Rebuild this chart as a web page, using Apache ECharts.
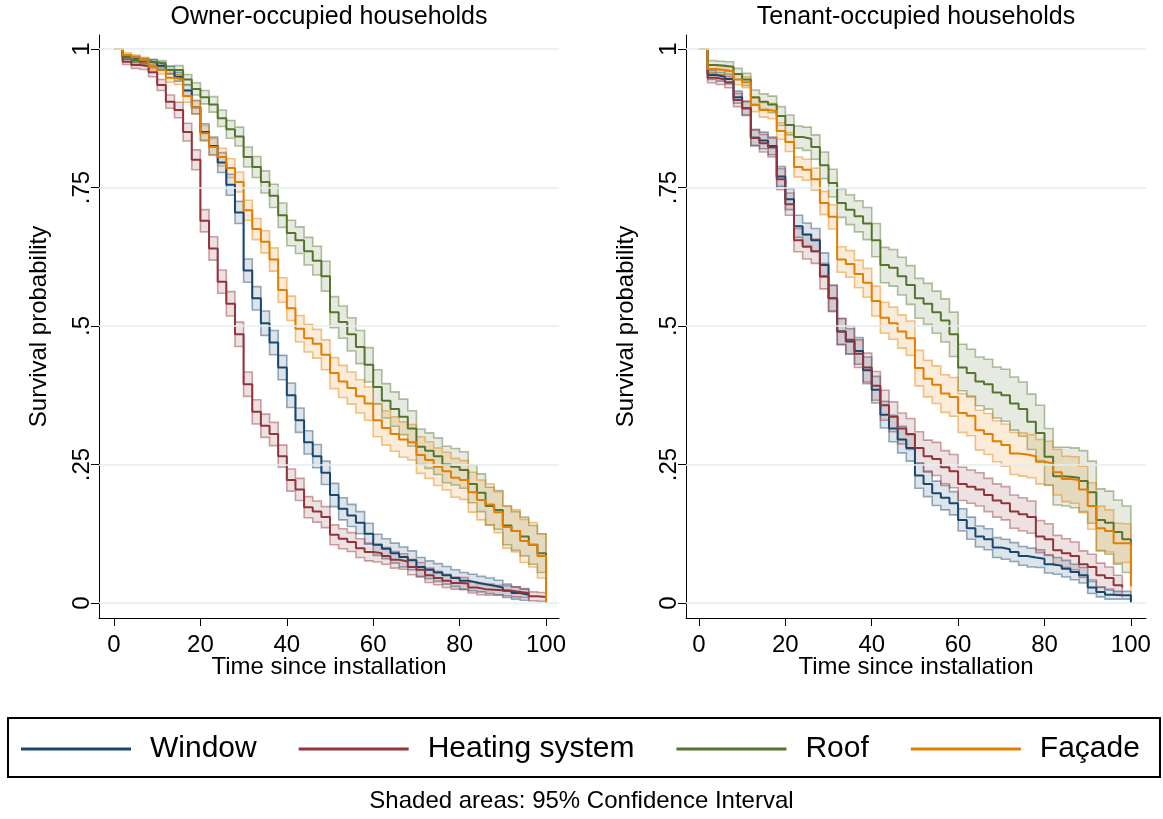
<!DOCTYPE html>
<html>
<head>
<meta charset="utf-8">
<script src="https://cdn.jsdelivr.net/npm/echarts@6.0.0/dist/echarts.min.js"></script>
<style>
html,body{margin:0;padding:0;background:#fff;}
#chart{width:1163px;height:819px;}
</style>
</head>
<body>
<div id="chart"></div>
<script>
// ---------- DATA ----------
// time grid (years since installation); each value holds from t[i] to t[i+1]
const T = [0,2,4,6,8,10,12,14,16,18,20,22,24,26,28,30,32,34,36,38,40,42,44,46,48,50,52,54,56,58,60,62,64,66,68,70,72,74,76,78,80,82,84,86,88,90,92,94,96,98,100];

const categories = ['Window', 'Heating system', 'Roof', 'Façade'];
const panelTitles = ['Owner-occupied households', 'Tenant-occupied households'];
const xTicks = [0, 20, 40, 60, 80, 100];
const yTicks = [0, 0.25, 0.5, 0.75, 1];
const yTickLabels = ['0', '.25', '.5', '.75', '1'];

// Owner-occupied: survival estimates
const ownWindow  = [1.0,0.985,0.982,0.978,0.975,0.97,0.962,0.95,0.925,0.895,0.85,0.825,0.795,0.755,0.705,0.6,0.55,0.505,0.47,0.425,0.375,0.33,0.29,0.265,0.235,0.195,0.17,0.158,0.145,0.125,0.105,0.098,0.09,0.083,0.077,0.065,0.06,0.055,0.05,0.045,0.04,0.037,0.034,0.031,0.028,0.022,0.018,0.015,0.014];
const ownHeating = [1.0,0.977,0.971,0.969,0.958,0.935,0.905,0.89,0.85,0.8,0.69,0.64,0.58,0.54,0.485,0.395,0.345,0.32,0.305,0.265,0.222,0.205,0.173,0.165,0.155,0.123,0.116,0.11,0.099,0.092,0.09,0.085,0.078,0.075,0.065,0.06,0.05,0.045,0.04,0.036,0.035,0.028,0.025,0.024,0.023,0.022,0.02,0.018,0.012,0.011,0.01];
const ownRoof    = [1.0,0.985,0.98,0.978,0.976,0.973,0.962,0.962,0.945,0.928,0.913,0.9,0.875,0.855,0.842,0.805,0.787,0.76,0.735,0.7,0.668,0.655,0.635,0.618,0.59,0.525,0.507,0.485,0.462,0.43,0.39,0.365,0.35,0.336,0.315,0.282,0.275,0.265,0.25,0.246,0.24,0.215,0.199,0.175,0.168,0.14,0.13,0.12,0.105,0.09,0.0];
const ownFacade  = [1.0,0.989,0.985,0.98,0.968,0.962,0.948,0.945,0.915,0.895,0.848,0.823,0.805,0.785,0.76,0.709,0.675,0.652,0.62,0.565,0.532,0.495,0.478,0.468,0.448,0.415,0.4,0.388,0.373,0.36,0.33,0.316,0.305,0.295,0.29,0.267,0.258,0.246,0.238,0.226,0.222,0.2,0.186,0.178,0.164,0.137,0.13,0.112,0.105,0.085,0.0];

// Owner-occupied: half-width of the shaded 95% band at each step
const ownWindowCI  = [0,0.004,0.005,0.005,0.006,0.006,0.007,0.008,0.01,0.012,0.015,0.016,0.018,0.019,0.02,0.021,0.021,0.022,0.022,0.022,0.022,0.022,0.021,0.021,0.021,0.021,0.02,0.02,0.02,0.019,0.019,0.018,0.018,0.018,0.017,0.017,0.016,0.016,0.016,0.015,0.015,0.015,0.014,0.014,0.013,0.012,0.011,0.01,0.01];
const ownHeatingCI = [0,0.005,0.006,0.006,0.008,0.01,0.012,0.014,0.016,0.018,0.02,0.021,0.021,0.022,0.022,0.022,0.022,0.021,0.021,0.02,0.02,0.02,0.019,0.019,0.019,0.018,0.018,0.017,0.017,0.016,0.016,0.015,0.015,0.014,0.014,0.013,0.013,0.012,0.012,0.011,0.011,0.01,0.01,0.01,0.009,0.009,0.009,0.008,0.008,0.008,0.007];
const ownRoofCI    = [0,0.004,0.005,0.005,0.005,0.006,0.007,0.008,0.009,0.011,0.012,0.014,0.015,0.016,0.017,0.018,0.019,0.02,0.021,0.022,0.023,0.024,0.025,0.026,0.027,0.028,0.029,0.03,0.03,0.031,0.031,0.031,0.031,0.032,0.032,0.032,0.032,0.033,0.033,0.033,0.033,0.034,0.034,0.034,0.035,0.035,0.035,0.035,0.035,0.035,0];
const ownFacadeCI  = [0,0.004,0.004,0.005,0.006,0.007,0.008,0.009,0.011,0.012,0.014,0.015,0.016,0.017,0.018,0.018,0.019,0.02,0.021,0.022,0.022,0.024,0.025,0.026,0.027,0.028,0.029,0.029,0.03,0.03,0.03,0.031,0.031,0.032,0.032,0.033,0.033,0.034,0.034,0.035,0.035,0.036,0.036,0.037,0.037,0.038,0.038,0.039,0.04,0.04,0];

// Tenant-occupied: survival estimates
const tenWindow  = [1.0,0.953,0.95,0.946,0.913,0.893,0.84,0.835,0.825,0.77,0.729,0.68,0.665,0.655,0.61,0.55,0.49,0.472,0.455,0.42,0.385,0.34,0.315,0.295,0.28,0.23,0.215,0.198,0.19,0.18,0.15,0.135,0.12,0.115,0.1,0.097,0.092,0.085,0.082,0.08,0.07,0.067,0.062,0.056,0.05,0.028,0.02,0.015,0.014,0.014,0.0];
const tenHeating = [1.0,0.948,0.945,0.94,0.908,0.893,0.84,0.83,0.822,0.765,0.72,0.655,0.643,0.635,0.59,0.55,0.49,0.475,0.45,0.425,0.392,0.357,0.336,0.315,0.305,0.28,0.265,0.26,0.245,0.238,0.215,0.21,0.205,0.195,0.185,0.18,0.165,0.16,0.155,0.12,0.115,0.095,0.09,0.085,0.07,0.065,0.05,0.045,0.032,0.028];
const tenRoof    = [1.0,0.971,0.97,0.968,0.955,0.945,0.913,0.905,0.9,0.879,0.863,0.841,0.838,0.823,0.79,0.758,0.722,0.71,0.698,0.685,0.655,0.61,0.605,0.59,0.574,0.55,0.54,0.525,0.51,0.485,0.425,0.415,0.4,0.395,0.38,0.375,0.36,0.35,0.327,0.307,0.264,0.229,0.228,0.226,0.22,0.2,0.15,0.145,0.128,0.115,0.105];
const tenFacade  = [1.0,0.964,0.962,0.96,0.945,0.94,0.899,0.89,0.888,0.852,0.832,0.787,0.782,0.765,0.722,0.697,0.62,0.612,0.594,0.578,0.545,0.515,0.505,0.49,0.478,0.424,0.405,0.394,0.378,0.372,0.343,0.338,0.312,0.305,0.292,0.285,0.27,0.268,0.265,0.255,0.252,0.236,0.224,0.222,0.205,0.175,0.135,0.13,0.108,0.108,0.03];

// Tenant-occupied: half-width of the shaded 95% band at each step
const tenWindowCI  = [0,0.008,0.008,0.009,0.011,0.012,0.014,0.015,0.016,0.018,0.019,0.02,0.021,0.021,0.022,0.023,0.023,0.023,0.024,0.024,0.024,0.024,0.024,0.024,0.024,0.023,0.023,0.022,0.022,0.021,0.02,0.02,0.019,0.019,0.018,0.018,0.017,0.017,0.017,0.016,0.016,0.015,0.015,0.014,0.014,0.011,0.009,0.008,0.007,0.007,0];
const tenHeatingCI = [0,0.009,0.009,0.01,0.012,0.013,0.015,0.016,0.017,0.019,0.02,0.021,0.022,0.022,0.023,0.024,0.024,0.025,0.025,0.026,0.026,0.027,0.027,0.028,0.028,0.029,0.029,0.03,0.03,0.03,0.03,0.03,0.03,0.03,0.03,0.03,0.03,0.03,0.029,0.029,0.028,0.027,0.026,0.025,0.024,0.023,0.022,0.02,0.018,0.018];
const tenRoofCI    = [0,0.008,0.008,0.009,0.01,0.011,0.013,0.014,0.015,0.017,0.018,0.02,0.021,0.022,0.024,0.025,0.026,0.027,0.028,0.029,0.03,0.032,0.033,0.034,0.035,0.036,0.037,0.038,0.039,0.04,0.042,0.043,0.044,0.045,0.046,0.047,0.048,0.049,0.05,0.05,0.051,0.052,0.053,0.054,0.055,0.056,0.056,0.057,0.058,0.06,0.06];
const tenFacadeCI  = [0,0.007,0.008,0.008,0.009,0.01,0.012,0.013,0.014,0.015,0.017,0.018,0.019,0.02,0.021,0.022,0.023,0.024,0.025,0.026,0.027,0.028,0.029,0.03,0.031,0.032,0.033,0.034,0.034,0.035,0.035,0.036,0.036,0.037,0.037,0.038,0.038,0.039,0.039,0.04,0.04,0.041,0.041,0.042,0.042,0.042,0.04,0.038,0.036,0.035,0.028];

// ---------- STYLE ----------
const FONT = "'Liberation Sans', Arial, Helvetica, sans-serif";
const lineColors = ['#1a476f', '#90353b', '#55752f', '#e37e00'];
const rgb = [[26,71,111],[144,53,59],[85,117,47],[227,126,0]];
const panels = [
  { values: [ownWindow, ownHeating, ownRoof, ownFacade], ci: [ownWindowCI, ownHeatingCI, ownRoofCI, ownFacadeCI], xMin: -3.47, xMax: 103.0 },
  { values: [tenWindow, tenHeating, tenRoof, tenFacade], ci: [tenWindowCI, tenHeatingCI, tenRoofCI, tenFacadeCI], xMin: -3.0, xMax: 103.5 }
];
const gridLefts = [99, 686];

const chart = echarts.init(document.getElementById('chart'), null, { renderer: 'canvas' });

const grids = [], xAxes = [], yAxes = [], series = [];
panels.forEach((p, pi) => {
  grids.push({ left: gridLefts[pi], top: 35, width: 460, height: 583, containLabel: false });
  xAxes.push({
    type: 'value', gridIndex: pi, min: p.xMin, max: p.xMax,
    name: 'Time since installation', nameLocation: 'middle', nameGap: 37, nameMoveOverlap: false,
    nameTextStyle: { fontSize: 24, color: '#000', fontFamily: FONT },
    axisLine: { show: true, onZero: false, lineStyle: { color: '#000', width: 1 } },
    axisTick: { show: true, length: 8, customValues: xTicks, lineStyle: { color: '#000', width: 1 } },
    axisLabel: { customValues: xTicks, fontSize: 24, color: '#000', fontFamily: FONT, margin: 15 },
    splitLine: { show: false }
  });
  yAxes.push({
    type: 'value', gridIndex: pi, min: -0.0271, max: 1.0253,
    name: 'Survival probability', nameLocation: 'middle', nameGap: 48,
    nameTextStyle: { fontSize: 24, color: '#000', fontFamily: FONT },
    axisLine: { show: true, onZero: false, lineStyle: { color: '#000', width: 1 } },
    axisTick: { show: true, length: 8, customValues: yTicks, lineStyle: { color: '#000', width: 1 } },
    axisLabel: {
      customValues: yTicks, rotate: 90, fontSize: 24, color: '#000', fontFamily: FONT, margin: 5,
      formatter: (v) => { const i = yTicks.findIndex(t => Math.abs(t - v) < 1e-9); return i >= 0 ? yTickLabels[i] : ''; }
    },
    splitLine: { show: false }
  });

  // grid lines at the y ticks
  series.push({
    type: 'line', name: 'grid' + pi, xAxisIndex: pi, yAxisIndex: pi, data: [], silent: true, z: 0,
    markLine: {
      silent: true, symbol: 'none', label: { show: false }, animation: false,
      lineStyle: { color: '#e4eef0', width: 1.6, type: 'solid' },
      data: yTicks.map(v => ({ yAxis: v }))
    }
  });

  // confidence bands
  p.values.forEach((vals, k) => {
    const ci = p.ci[k];
    const lo = vals.map((y, i) => Math.max(0, y - ci[i]));
    const hi = vals.map((y, i) => y + ci[i]);
    const c = rgb[k];
    series.push({
      type: 'custom', name: categories[k] + ' CI ' + pi, xAxisIndex: pi, yAxisIndex: pi, z: 1, silent: true,
      data: vals.map((y, i) => [T[i], lo[i], hi[i]]),
      encode: { x: 0, y: [1, 2] },
      renderItem: (params, api) => {
        if (params.dataIndex !== 0) return null;
        const n = vals.length, pts = [];
        for (let i = 0; i < n; i++) {
          pts.push(api.coord([T[i], hi[i]]));
          if (i < n - 1) pts.push(api.coord([T[i + 1], hi[i]]));
        }
        for (let i = n - 1; i >= 0; i--) {
          pts.push(api.coord([T[i], lo[i]]));
          if (i > 0) pts.push(api.coord([T[i], lo[i - 1]]));
        }
        return {
          type: 'polygon', shape: { points: pts },
          style: { fill: `rgba(${c[0]},${c[1]},${c[2]},0.15)`, stroke: `rgba(${c[0]},${c[1]},${c[2]},0.45)`, lineWidth: 1.6 }
        };
      }
    });
  });

  // survival step lines
  p.values.forEach((vals, k) => {
    series.push({
      type: 'line', name: categories[k], xAxisIndex: pi, yAxisIndex: pi, step: 'end',
      showSymbol: false, symbol: 'none', z: 3, silent: true,
      data: vals.map((y, i) => [T[i], y]),
      lineStyle: { color: lineColors[k], width: 2 },
      itemStyle: { color: lineColors[k] }
    });
  });
});

chart.setOption({
  animation: false,
  backgroundColor: '#fff',
  grid: grids, xAxis: xAxes, yAxis: yAxes, series: series,
  legend: {
    data: categories, left: 21, top: 734, padding: 0, selectedMode: false,
    icon: 'rect', itemWidth: 110, itemHeight: 3, itemGap: 42,
    textStyle: { fontSize: 30, color: '#000', fontFamily: FONT, padding: [0, 0, 0, 14] }
  },
  graphic: [
    { type: 'text', x: 329, y: 17, style: { text: panelTitles[0], font: `25px ${FONT}`, fill: '#000', textAlign: 'center', textVerticalAlign: 'middle', align: 'center', verticalAlign: 'middle' } },
    { type: 'text', x: 916, y: 17, style: { text: panelTitles[1], font: `25px ${FONT}`, fill: '#000', textAlign: 'center', textVerticalAlign: 'middle', align: 'center', verticalAlign: 'middle' } },
    { type: 'rect', shape: { x: 8, y: 718, width: 1152, height: 59 }, style: { fill: 'none', stroke: '#000', lineWidth: 2 } },
    { type: 'text', x: 581.5, y: 801, style: { text: 'Shaded areas: 95% Confidence Interval', font: `24px ${FONT}`, fill: '#000', textAlign: 'center', textVerticalAlign: 'middle', align: 'center', verticalAlign: 'middle' } }
  ]
});
</script>
</body>
</html>
